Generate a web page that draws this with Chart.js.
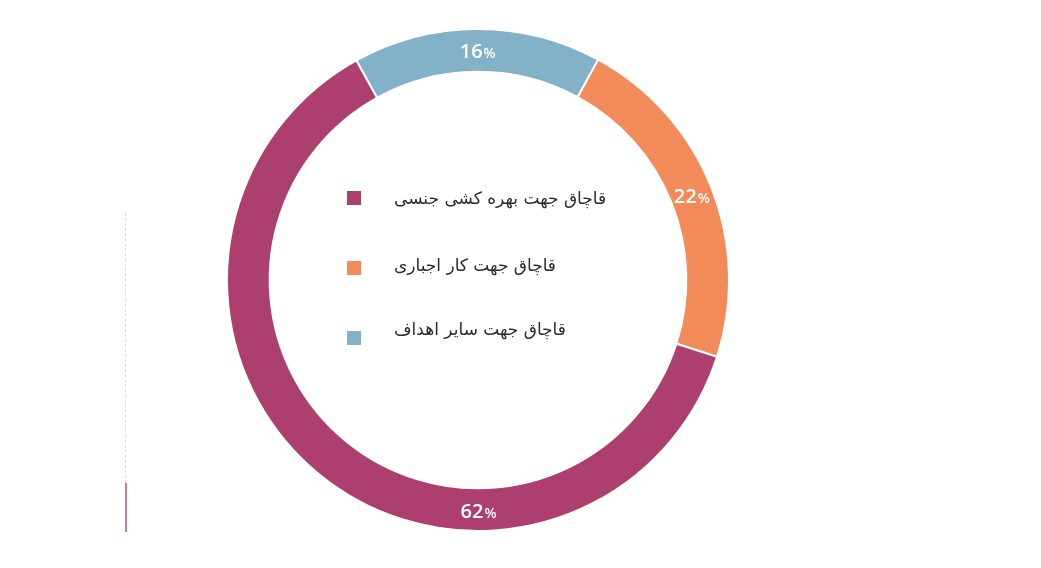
<!DOCTYPE html>
<html>
<head>
<meta charset="utf-8">
<script src="https://cdn.jsdelivr.net/npm/chart.js@4.4.0/dist/chart.umd.min.js"></script>
<style>
  html, body { margin: 0; padding: 0; background: #fff; }
  #wrap { position: relative; width: 1041px; height: 568px; }
  #legend { position: absolute; left: 347px; top: 163px; font-family: "DejaVu Sans", sans-serif; font-size: 17px; color: #2b2b2b; }
  .row { display: flex; align-items: center; height: 70px; }
  .row .box { width: 14px; height: 14px; margin-right: 33px; flex: none; }
  .row .txt { direction: rtl; position: relative; white-space: nowrap; }
  .row:nth-child(1) .txt { top: 0; }
  .row:nth-child(2) .txt { top: -3px; }
  .row:nth-child(3) .txt { top: -9px; }
  #dash { position: absolute; left: 125px; top: 213px; height: 270px; border-left: 1px dashed #dcdcdc; }
  #solid { position: absolute; left: 124.5px; top: 483px; width: 2px; height: 49px; background: #c8799f; }
</style>
</head>
<body>
<div id="wrap">
  <canvas id="chart"></canvas>
  <div id="legend"></div>
  <div id="dash"></div>
  <div id="solid"></div>
</div>
<script>
// legend order
const categories = ["قاچاق جهت بهره کشی جنسی", "قاچاق جهت کار اجباری", "قاچاق جهت سایر اهداف"];
const shares = [62, 22, 16];
const colors = ["#ad3f6f", "#f28a5a", "#83b1c7"];

// html legend inside the ring
const legendEl = document.getElementById("legend");
categories.forEach((c, i) => {
  const row = document.createElement("div");
  row.className = "row";
  row.innerHTML = '<span class="box" style="background:' + colors[i] + '"></span><span class="txt">' + c + "</span>";
  legendEl.appendChild(row);
});

// ring is drawn clockwise: other, forced labour, sexual
const order = [2, 1, 0];

const pctLabels = {
  id: "pctLabels",
  afterDatasetsDraw(chart, args, opts) {
    const ctx = chart.ctx;
    const meta = chart.getDatasetMeta(0);
    const data = chart.data.datasets[0].data;
    meta.data.forEach((arc, i) => {
      const p = arc.getProps(["x", "y", "startAngle", "endAngle", "innerRadius", "outerRadius"], true);
      let a = (p.startAngle + p.endAngle) / 2;
      if (opts.angles && opts.angles[i] != null) a = opts.angles[i];
      const r = (p.innerRadius + p.outerRadius) / 2;
      const x = p.x + Math.cos(a) * r;
      const y = p.y + Math.sin(a) * r;
      const num = String(data[i]);
      ctx.save();
      ctx.fillStyle = "#fff";
      ctx.textBaseline = "alphabetic";
      ctx.font = "600 20px 'Open Sans'";
      const w1 = ctx.measureText(num).width;
      ctx.font = "600 14px 'Open Sans'";
      const w2 = ctx.measureText("%").width;
      const left = x - (w1 + w2) / 2;
      ctx.textAlign = "left";
      ctx.font = "600 20px 'Open Sans'";
      ctx.fillText(num, left, y + 8);
      ctx.font = "600 14px 'Open Sans'";
      ctx.fillText("%", left + w1 + 1, y + 8);
      ctx.restore();
    });
  }
};

new Chart(document.getElementById("chart"), {
  type: "doughnut",
  data: {
    labels: order.map(i => categories[i]),
    datasets: [{
      data: order.map(i => shares[i]),
      backgroundColor: order.map(i => colors[i]),
      borderColor: "#fff",
      borderWidth: 2,
    }],
  },
  options: {
    responsive: true,
    maintainAspectRatio: false,
    animation: false,
    rotation: -29,
    cutout: "83%",
    layout: { padding: { left: 226, right: 311, top: 28, bottom: 36 } },
    plugins: {
      legend: { display: false },
      tooltip: { enabled: false },
      pctLabels: { angles: [null, null, Math.PI / 2] },
    },
  },
  plugins: [pctLabels],
});
</script>
<style>#chart { width: 1041px !important; height: 568px !important; }</style>
</body>
</html>
